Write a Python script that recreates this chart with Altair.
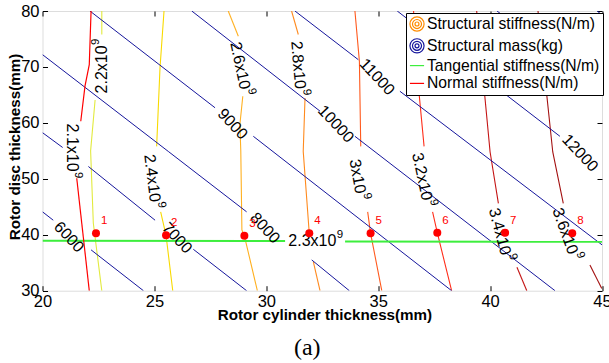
import altair as alt
import pandas as pd

FONT = "Liberation Sans"

# Axis ticks (mm)
x_ticks = [20, 25, 30, 35, 40, 45]
y_ticks = [30, 40, 50, 60, 70, 80]

# ---------------------------------------------------------------------------
# Contour lines: each contour is a list of line pieces, each piece a list of
# (rotor cylinder thickness, rotor disc thickness) points in mm.
# ---------------------------------------------------------------------------

# Structural stiffness (N/m)
stiff_levels = [2.2e9, 2.4e9, 2.6e9, 2.8e9, 3.0e9, 3.2e9, 3.4e9, 3.6e9]
stiff_colors = ["#E2EA3E", "#F8DA00", "#FFB020", "#FF8A1E", "#FF5A1E", "#FF2E1A", "#C41414", "#A31010"]
k22 = [[(22.65, 80.0), (22.65, 75.8)],
       [(22.35, 64.1), (22.15, 55.0), (22.27, 42.1), (22.65, 30.0)]]
k24 = [[(25.43, 80.0), (25.25, 69.8), (25.10, 55.8)],
       [(25.28, 44.1), (25.52, 39.9), (25.82, 30.0)]]
k26 = [[(28.30, 80.0), (28.75, 75.5)],
       [(28.95, 64.75), (28.82, 59.7), (28.86, 55.0), (28.91, 40.85), (29.02, 39.8), (29.60, 30.0)]]
k28 = [[(31.13, 80.0), (31.43, 75.8)],
       [(31.73, 64.45), (31.65, 54.9), (31.92, 40.26)],
       [(32.10, 35.2), (32.40, 30.0)]]
k30 = [[(33.96, 80.0), (34.16, 71.0), (34.22, 55.8)],
       [(34.53, 44.1), (34.66, 40.26), (35.16, 30.0)]]
k32 = [[(36.58, 80.0), (36.79, 66.8), (37.05, 55.8)],
       [(37.43, 44.1), (37.64, 40.37), (38.28, 30.0)]]
k34 = [[(39.40, 80.0), (39.73, 66.2), (40.00, 54.8), (40.37, 45.6)],
       [(41.20, 34.2), (41.64, 30.0)]]
k36 = [[(42.14, 80.0), (42.50, 66.2), (42.80, 54.8), (43.27, 45.6)],
       [(44.46, 34.6), (44.99, 30.4)]]
stiff_lines = [k22, k24, k26, k28, k30, k32, k34, k36]

# Structural mass (kg)
mass_levels = [6000, 7000, 8000, 9000, 10000, 11000, 12000, 13000, 14000]
m6000 = [[(20.0, 44.1), (20.48, 42.6)], [(22.17, 37.3), (24.51, 30.0)]]
m7000 = [[(20.0, 58.25), (20.9, 55.6)], [(22.05, 52.2), (25.03, 42.6)], [(26.74, 37.4), (29.12, 30.0)]]
m8000 = [[(20.0, 72.2), (25.62, 54.9), (29.12, 44.1)], [(32.03, 35.5), (33.71, 30.0)]]
m9000 = [[(22.12, 80.0), (27.71, 62.7)], [(29.42, 57.6), (38.28, 30.0)]]
m10000 = [[(26.67, 80.0), (32.40, 62.1)], [(33.96, 57.6), (42.90, 30.0)]]
m11000 = [[(31.28, 80.0), (34.11, 71.3)], [(35.97, 65.65), (45.0, 38.2)]]
m12000 = [[(35.85, 80.0), (43.12, 57.6)]]
m13000 = [[(40.31, 80.0), (45.0, 65.5)]]
m14000 = [[(44.78, 80.0), (45.0, 79.3)]]
mass_lines = [m6000, m7000, m8000, m9000, m10000, m11000, m12000, m13000, m14000]
MASS_COLOR = "#16169C"

# Tangential stiffness contour (N/m)
tan_level = 2.3e9
tan_line = [[(20.0, 38.92), (30.84, 38.88)], [(33.52, 38.80), (45.0, 38.75)]]
TAN_COLOR = "#3DEE3D"

# Normal stiffness contour (N/m)
normal_level = 2.1e9
normal_line = [[(22.17, 80.0), (22.09, 70.4), (21.90, 66.6), (21.71, 60.3)],
               [(21.53, 50.1), (22.09, 30.0)]]
NORMAL_COLOR = "#FF0000"

# Candidate design points
pt_id = ["1", "2", "3", "4", "5", "6", "7", "8"]
pt_x = [22.39, 25.52, 29.02, 31.92, 34.66, 37.64, 40.67, 43.67]
pt_y = [40.26, 39.90, 39.83, 40.26, 40.26, 40.37, 40.37, 40.26]

# Inline label anchors (x, y, text angle). Stiffness labels are anchored where
# the mantissa "...x10" ends and the exponent begins; mass labels at their centre.
stiff_label_at = [(22.68, 73.85, 270), (25.03, 45.86, 83), (29.05, 66.04, 78), (31.52, 66.06, 85),
                  (34.21, 47.38, 80), (37.18, 46.20, 78), (40.71, 36.40, 75), (43.72, 36.60, 70)]
mass_label_at = [(21.18, 39.6, 47), (26.01, 39.4, 47), (29.94, 41.2, 47), (28.49, 59.8, 47),
                 (33.11, 59.8, 47), (34.95, 68.2, 47), (44.02, 54.6, 47)]
tan_label_at = (33.13, 38.85, 0)
normal_label_at = (21.30, 51.29, 90)

legend_names = ["Structural stiffness(N/m)", "Structural mass(kg)",
                "Tangential stiffness(N/m)", "Normal stiffness(N/m)"]
legend_colors = ["#FF8C00", MASS_COLOR, TAN_COLOR, NORMAL_COLOR]


def mantissa(v):
    return f"{v / 1e9:g}x10"


def line_rows(name, pieces, color):
    rows = []
    for s, piece in enumerate(pieces):
        for i, (x, y) in enumerate(piece):
            rows.append({"piece": f"{name}-{s}", "ord": i, "x": x, "y": y, "color": color})
    return rows


stiff_rows, mass_rows = [], []
for lvl, pieces, col in zip(stiff_levels, stiff_lines, stiff_colors):
    stiff_rows += line_rows(f"k{lvl:g}", pieces, col)
for lvl, pieces in zip(mass_levels, mass_lines):
    mass_rows += line_rows(f"m{lvl}", pieces, MASS_COLOR)
tan_rows = line_rows("t", tan_line, TAN_COLOR)
normal_rows = line_rows("n", normal_line, NORMAL_COLOR)

# stiffness-type labels: mantissa + exponent drawn as two texts sharing an anchor
exp_rows = []
for lvl, (x, y, a) in zip(stiff_levels + [tan_level, normal_level],
                          stiff_label_at + [tan_label_at, normal_label_at]):
    exp_rows.append({"x": x, "y": y, "ang": a, "main": mantissa(lvl), "sup": "9"})
mass_label_rows = [{"x": x, "y": y, "ang": a, "text": str(lvl)}
                   for lvl, (x, y, a) in zip(mass_levels, mass_label_at)]

points = pd.DataFrame({"id": pt_id, "x": pt_x, "y": pt_y})
legend_df = pd.DataFrame({"entry": legend_names, "x": [30.0] * 4, "y": [50.0] * 4})

W, H = 559.5, 279.7
xs = alt.Scale(domain=[20, 45], nice=False, zero=False)
ys = alt.Scale(domain=[30, 80], nice=False, zero=False)
X0 = alt.X("x:Q", scale=xs, axis=None)
Y0 = alt.Y("y:Q", scale=ys, axis=None)

tick_only = dict(labels=False, domain=False, grid=False, ticks=True, tickSize=5,
                 tickColor="black", tickWidth=1, title=None)

ax_bottom = alt.Axis(orient="bottom", values=x_ticks, ticks=False, domain=False, grid=False,
                     labelFont=FONT, labelFontSize=16.5, labelColor="black", labelPadding=3,
                     labelFlush=False, labelOverlap=False,
                     title="Rotor cylinder thickness(mm)", titleFont=FONT, titleFontSize=15.2,
                     titleFontWeight="bold", titleColor="black", titleX=282, titleY=29,
                     titleBaseline="alphabetic", titleAlign="center")
ax_left = alt.Axis(orient="left", values=y_ticks, ticks=False, domain=False, grid=False,
                   labelFont=FONT, labelFontSize=16.5, labelColor="black", labelPadding=3.5,
                   labelFlush=False, labelOverlap=False,
                   title="Rotor disc thickness(mm)", titleFont=FONT, titleFontSize=15.2,
                   titleFontWeight="bold", titleColor="black", titleAngle=270, titleX=-23,
                   titleY=135.5, titleBaseline="alphabetic", titleAlign="center")
ax_bottom_in = alt.Axis(orient="top", offset=-H, values=x_ticks, **tick_only)
ax_top_in = alt.Axis(orient="bottom", offset=-H, values=x_ticks, **tick_only)
ax_left_in = alt.Axis(orient="right", offset=-W, values=y_ticks, **tick_only)
ax_right_in = alt.Axis(orient="left", offset=-W, values=y_ticks, **tick_only)


def contour_layer(rows, width, xa=None, ya=None):
    return alt.Chart(pd.DataFrame(rows)).mark_line(strokeWidth=width, clip=True).encode(
        x=alt.X("x:Q", scale=xs, axis=xa),
        y=alt.Y("y:Q", scale=ys, axis=ya),
        detail="piece:N",
        order="ord:Q",
        color=alt.Color("color:N", scale=None),
    )


stiff_layer = contour_layer(stiff_rows, 1.1, ax_bottom, ax_left)
mass_layer = contour_layer(mass_rows, 1.0, ax_bottom_in, ax_left_in)
tan_layer = contour_layer(tan_rows, 2.0, ax_top_in, ax_right_in)
normal_layer = contour_layer(normal_rows, 1.2)

exp_base = alt.Chart(pd.DataFrame(exp_rows))
mantissa_layer = exp_base.mark_text(
    font=FONT, fontSize=16, color="black", align="right", baseline="middle"
).encode(x=X0, y=Y0, text="main:N", angle=alt.Angle("ang:Q", scale=None))
exponent_layer = exp_base.mark_text(
    font=FONT, fontSize=11.5, color="black", align="left", baseline="middle", dx=0.5, dy=-6
).encode(x=X0, y=Y0, text="sup:N", angle=alt.Angle("ang:Q", scale=None))

mass_text_layer = alt.Chart(pd.DataFrame(mass_label_rows)).mark_text(
    font=FONT, fontSize=16, color="black", align="center", baseline="middle"
).encode(x=X0, y=Y0, text="text:N", angle=alt.Angle("ang:Q", scale=None))

points_layer = alt.Chart(points).mark_circle(size=64, color="#FF0000", opacity=1).encode(x=X0, y=Y0)
point_ids = alt.Chart(points).mark_text(
    font=FONT, fontSize=11.5, color="#FF0000", align="left", baseline="middle", dx=5, dy=-12
).encode(x=X0, y=Y0, text="id:N")

rings = ("M1,0A1,1,0,1,1,-1,0A1,1,0,1,1,1,0Z"
         "M0.64,0A0.64,0.64,0,1,1,-0.64,0A0.64,0.64,0,1,1,0.64,0Z"
         "M0.28,0A0.28,0.28,0,1,1,-0.28,0A0.28,0.28,0,1,1,0.28,0Z")
dash = "M-1,0L1,0"
legend_spec = dict(title=None, orient="none", legendX=363.5, legendY=2, fillColor="white",
                   strokeColor="black", padding=3, rowPadding=1.8, labelFont=FONT,
                   labelFontSize=15.7, labelColor="black", labelOffset=2, labelLimit=400,
                   symbolSize=200, symbolStrokeWidth=1.2, symbolOpacity=1, zindex=1)
legend_layer = alt.Chart(legend_df).mark_point(filled=False, opacity=0).encode(
    x=X0, y=Y0,
    color=alt.Color("entry:N", scale=alt.Scale(domain=legend_names, range=legend_colors),
                    legend=alt.Legend(**legend_spec)),
    shape=alt.Shape("entry:N", scale=alt.Scale(domain=legend_names, range=[rings, rings, dash, dash]),
                    legend=alt.Legend(**legend_spec)),
)

chart = alt.layer(
    stiff_layer, mass_layer, tan_layer, normal_layer, mantissa_layer, exponent_layer,
    mass_text_layer, points_layer, point_ids, legend_layer
).resolve_axis(x="independent", y="independent").properties(
    width=W, height=H,
    autosize=alt.AutoSizeParams(type="none"),
    padding={"left": 42.5, "top": 11, "right": 7, "bottom": 72.3},
    title=alt.TitleParams("(a)", orient="bottom", font="Liberation Serif", fontSize=24,
                          fontWeight="normal", color="black", offset=13, dx=-15),
).configure_view(stroke="black", strokeWidth=2.5).configure(background="white")

chart.save("out.html", embed_options={"renderer": "svg", "actions": False})
